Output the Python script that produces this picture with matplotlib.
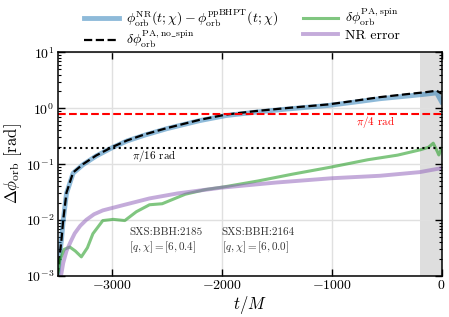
import numpy as np
import matplotlib
matplotlib.use('Agg')
import matplotlib.pyplot as plt

plt.rcParams['font.family'] = 'serif'
plt.rcParams['font.serif'] = ['cmr10', 'DejaVu Serif']
plt.rcParams['mathtext.fontset'] = 'cm'
plt.rcParams['axes.formatter.use_mathtext'] = True
plt.rcParams['axes.unicode_minus'] = True

# data (t/M, rad)
t_nr = [-3490, -3470, -3455, -3440, -3410, -3350, -3260, -3140, -3000, -2860, -2700,
        -2500, -2200, -1960, -1690, -1400, -1030, -800, -560, -300, -150, -45, 0]
dphi_nr = [0.001, 0.0025, 0.0046, 0.0098, 0.030, 0.069, 0.098, 0.14, 0.195, 0.26, 0.33,
           0.43, 0.60, 0.74, 0.85, 0.97, 1.12, 1.28, 1.48, 1.66, 1.78, 1.88, 1.30]
t_ns = [-3490, -3470, -3455, -3440, -3410, -3350, -3260, -3140, -3000, -2860, -2700,
        -2500, -2200, -1960, -1690, -1400, -1030, -800, -560, -300, -150, -45, 0]
dphi_ns = [0.001, 0.0025, 0.0046, 0.01, 0.031, 0.071, 0.10, 0.143, 0.2, 0.265, 0.34,
           0.44, 0.62, 0.77, 0.89, 1.01, 1.17, 1.35, 1.58, 1.80, 1.93, 2.06, 1.82]
t_spin = [-3490, -3470, -3430, -3380, -3330, -3275, -3220, -3170, -3080, -2985, -2880,
          -2775, -2655, -2540, -2330, -2150, -1985, -1670, -1360, -1000, -670, -400,
          -197, -120, -76, -40, -25, 0]
dphi_spin = [0.001, 0.0019, 0.003, 0.0033, 0.0028, 0.0022, 0.0032, 0.0057, 0.0098, 0.0103,
             0.0098, 0.0141, 0.0188, 0.0196, 0.029, 0.035, 0.039, 0.050, 0.066, 0.089,
             0.12, 0.145, 0.18, 0.20, 0.237, 0.17, 0.146, 0.19]
t_err = [-3460, -3440, -3410, -3370, -3335, -3285, -3230, -3160, -3080, -2900, -2655,
         -2400, -2000, -1500, -1000, -560, -200, 0]
dphi_err = [0.001, 0.0017, 0.0028, 0.0042, 0.0058, 0.0079, 0.0101, 0.0127, 0.0149, 0.0184,
            0.0244, 0.030, 0.038, 0.047, 0.056, 0.062, 0.072, 0.085]

fig = plt.figure(figsize=(4.49, 3.17), dpi=100)
ax = fig.add_axes([0.1285, 0.1293, 0.855, 0.7057])

ax.axvspan(-200, 0, color='0.87', lw=0, zorder=0)
ax.plot(t_nr, dphi_nr, color='tab:blue', alpha=0.5, lw=3.5,
        label=r'$\phi^{\rm NR}_{\rm orb}(t;\chi)-\phi^{\rm ppBHPT}_{\rm orb}(t;\chi)$')
ax.plot(t_ns, dphi_ns, color='k', ls='--', lw=1.6,
        label=r'$\delta\phi^{\rm PA,no\_spin}_{\rm orb}$')
ax.plot(t_spin, dphi_spin, color='tab:green', alpha=0.6, lw=2.2,
        label=r'$\delta\phi^{\rm PA,spin}_{\rm orb}$')
ax.plot(t_err, dphi_err, color='tab:purple', alpha=0.55, lw=2.8, label='NR error')

ax.axhline(np.pi/4, color='r', ls='--', lw=1.5)
ax.axhline(np.pi/16, color='k', ls=':', lw=1.5)
ax.text(-600, 0.57, r'$\pi/4$ rad', color='r', fontsize=8, ha='center', va='center')
ax.text(-2810, 0.14, r'$\pi/16$ rad', color='k', fontsize=8, ha='left', va='center')

ax.text(-2840, 0.0075, 'SXS:BBH:2185\n' + r'$[q,\chi]=[6,0.4]$', color='0.2',
        fontsize=8, ha='left', va='top', linespacing=1.3)
ax.text(-2000, 0.0075, 'SXS:BBH:2164\n' + r'$[q,\chi]=[6,0.0]$', color='0.2',
        fontsize=8, ha='left', va='top', linespacing=1.3)

ax.set_yscale('log')
ax.set_xlim(-3490, 0)
ax.set_ylim(1e-3, 10)
ax.set_xticks([-3000, -2000, -1000, 0])
ax.grid(True, which='major', color='0.88', lw=1)
ax.tick_params(axis='both', which='both', direction='in', top=True, right=True,
               labelsize=10, pad=2.5)
ax.tick_params(which='major', length=5, width=1)
ax.tick_params(which='minor', length=2.5, width=0.8)
for s in ax.spines.values():
    s.set_linewidth(1.1)

ax.set_xlabel(r'$t/M$', fontsize=12, labelpad=1)
ax.set_ylabel(r'$\Delta\phi_{\rm orb}$ [rad]', fontsize=12, labelpad=1)

ax.legend(ncol=2, frameon=False, fontsize=10, loc='lower center',
          bbox_to_anchor=(0.48, 0.985), handlelength=2.5, columnspacing=1.8,
          labelspacing=0.05, borderaxespad=0.0, handletextpad=0.5)

fig.savefig('out.png', dpi=100)
